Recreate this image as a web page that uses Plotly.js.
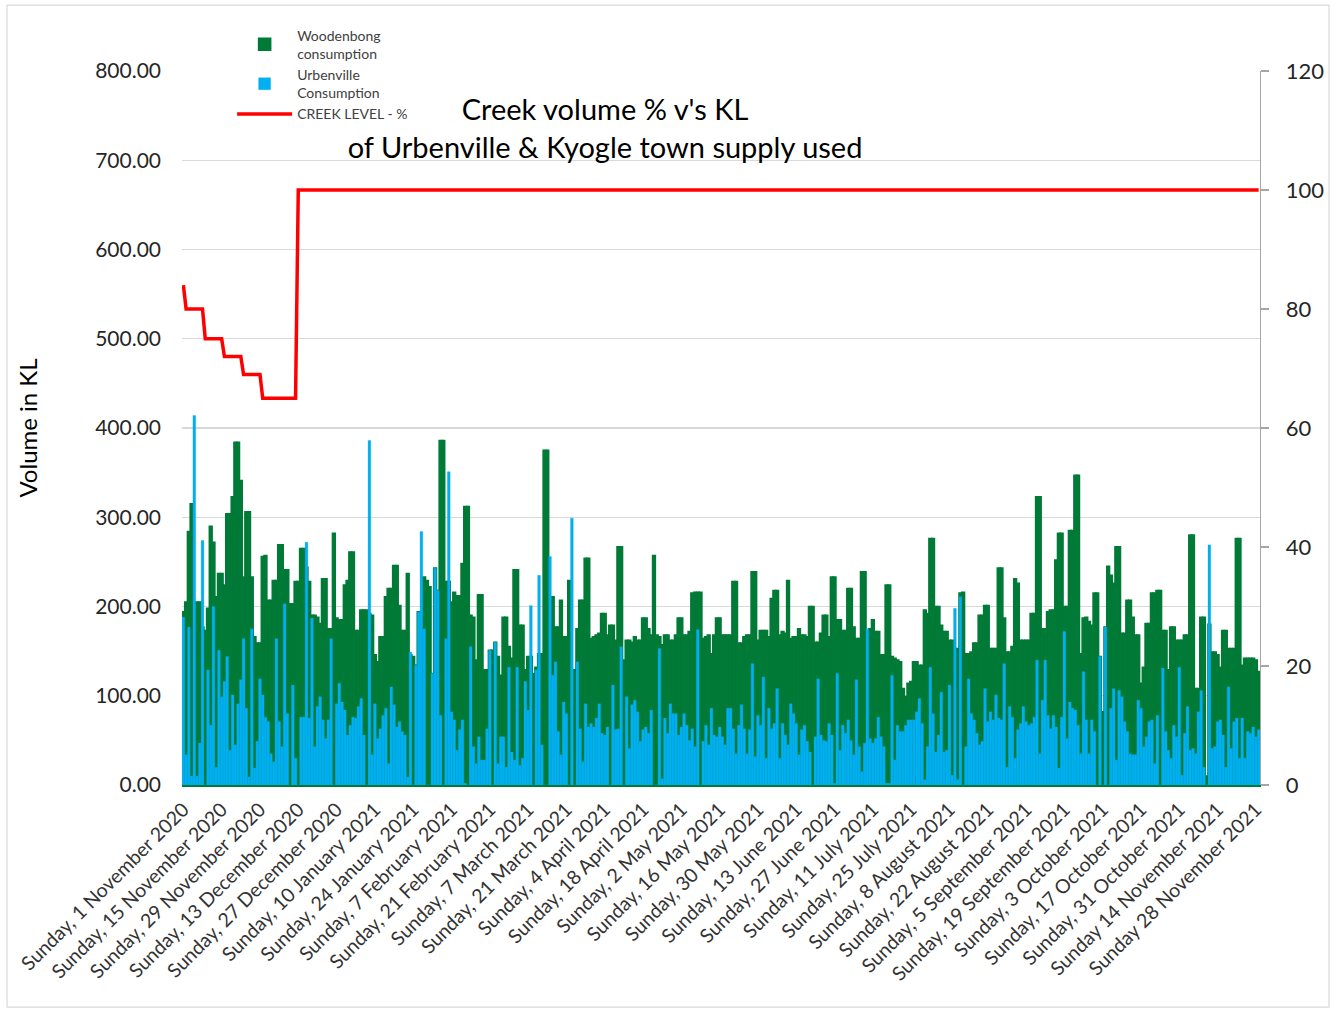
<!DOCTYPE html>
<html>
<head>
<meta charset="utf-8">
<script src="https://cdn.plot.ly/plotly-3.0.1.min.js"></script>
<style>html,body{margin:0;padding:0;background:#fff;}#chart{width:1341px;height:1009px;}</style>
</head>
<body>
<div id="chart"></div>
<script>
// ---- data (daily from Sunday 1 November 2020) ----
var startDate = '2020-11-01';

var woodenbong = [
194,205,284,315,200,205,205,177,173,198,290,272,211,237,237,224,304,304,323,384,
384,341,233,306,306,233,166,159,159,256,257,207,207,229,229,269,269,241,241,203,
203,228,228,265,265,244,228,190,190,188,181,231,231,175,175,282,187,185,185,224,
229,261,261,173,173,196,196,
196,192,190,146,138,166,166,211,220,220,246,246,201,173,173,237,146,144,134,194,
175,233,229,222,125,243,218,386,386,228,228,205,216,212,212,248,312,312,190,188,
140,213,213,129,129,151,151,160,144,123,188,188,155,142,241,241,179,179,129,144,
144,125,132,147,147,375,375,
211,211,177,177,207,166,166,229,129,129,175,207,207,254,254,164,166,168,170,192,
192,168,179,179,162,267,267,140,162,162,160,166,162,162,187,187,175,168,257,168,
166,157,168,168,162,162,168,187,187,168,168,172,215,216,216,216,164,166,168,147,
168,187,187,168,168,168,
168,228,228,159,159,166,168,168,239,239,162,173,173,173,166,209,218,218,168,172,
170,229,164,166,166,175,168,168,166,200,200,160,160,170,190,190,166,233,233,185,
185,173,173,220,220,177,164,164,239,239,164,175,185,172,172,146,146,224,224,144,
142,140,138,108,99,114,
116,138,138,134,134,196,192,276,276,200,200,179,172,172,162,162,153,153,215,216,
147,147,149,159,159,190,190,201,201,153,153,153,243,243,187,149,149,155,231,226,
162,162,162,162,192,192,323,323,175,175,194,196,196,252,282,282,200,200,285,285,
347,347,147,187,188,183,
179,215,215,144,82,177,245,235,226,267,267,170,170,207,207,188,168,168,114,132,
181,181,215,215,218,218,173,173,129,177,177,162,162,162,168,168,280,280,108,108,
188,188,10,180,149,149,146,132,173,173,153,153,153,276,276,134,142,142,142,142,
140,127
];

var urbenville = [
188,34,177,10,414,10,47,274,0,129,67,200,20,151,99,116,144,39,101,45,
91,118,164,86,9,175,19,49,119,101,76,71,35,26,164,71,43,203,80,0,
112,30,0,76,76,272,75,187,43,88,99,73,52,73,164,0,91,114,93,84,
56,67,76,75,88,97,56,
0,386,34,91,52,63,78,86,24,110,90,65,71,60,56,9,149,0,134,194,
284,175,0,0,125,243,218,78,0,164,351,82,73,39,62,73,2,0,155,43,
24,54,28,28,63,151,0,160,24,54,54,20,132,37,28,132,22,30,116,84,
201,0,129,235,45,0,0,
256,123,138,60,34,93,80,0,299,0,138,63,26,91,65,69,65,75,91,58,
56,65,0,112,62,63,155,0,99,41,90,95,82,49,62,65,58,84,0,0,
153,7,75,58,91,80,80,56,65,80,67,50,63,43,174,0,49,67,45,86,
56,54,65,54,45,86,
86,63,35,67,90,63,35,62,136,32,78,67,121,30,86,63,69,108,30,69,
56,45,91,80,69,34,62,67,49,37,0,54,119,56,50,49,69,56,2,125,
39,67,58,73,50,34,118,43,15,47,175,52,47,52,76,54,43,2,2,123,
28,67,60,60,67,73,
73,73,82,97,69,6,43,132,80,37,56,104,37,39,112,11,198,6,211,0,
43,119,80,73,58,45,49,108,71,82,73,101,75,73,136,20,88,76,30,62,
69,88,71,67,69,76,140,35,95,140,78,63,78,65,19,76,172,52,93,86,
84,67,35,127,73,35,
73,60,0,144,0,177,0,86,108,28,106,99,71,60,35,34,34,95,86,43,
54,71,73,24,78,0,131,60,39,30,67,54,132,11,58,88,39,41,35,82,
106,20,0,269,41,43,71,73,56,20,110,41,71,75,30,75,30,60,58,65,
54,62
];

var creekLevel = [
84,80,80,80,80,80,80,80,75,75,75,75,75,75,75,72,72,72,72,72,72,72,
69,69,69,69,69,69,69,65,65,65,65,65,65,65,65,65,65,65,65,65,
100,100,100,100,100,100,100,100,100,100,100,100,100,100,100,100,100,100,100,100,100,100,
100,100,100,100,100,100,100,100,100,100,100,100,100,100,100,100,100,100,100,100,100,100,
100,100,100,100,100,100,100,100,100,100,100,100,100,100,100,100,100,100,100,100,100,100,
100,100,100,100,100,100,100,100,100,100,100,100,100,100,100,100,100,100,100,100,100,100,
100,100,100,100,100,100,100,100,100,100,100,100,100,100,100,100,100,100,100,100,100,100,
100,100,100,100,100,100,100,100,100,100,100,100,100,100,100,100,100,100,100,100,100,100,
100,100,100,100,100,100,100,100,100,100,100,100,100,100,100,100,100,100,100,100,100,100,
100,100,100,100,100,100,100,100,100,100,100,100,100,100,100,100,100,100,100,100,100,100,
100,100,100,100,100,100,100,100,100,100,100,100,100,100,100,100,100,100,100,100,100,100,
100,100,100,100,100,100,100,100,100,100,100,100,100,100,100,100,100,100,100,100,100,100,
100,100,100,100,100,100,100,100,100,100,100,100,100,100,100,100,100,100,100,100,100,100,
100,100,100,100,100,100,100,100,100,100,100,100,100,100,100,100,100,100,100,100,100,100,
100,100,100,100,100,100,100,100,100,100,100,100,100,100,100,100,100,100,100,100,100,100,
100,100,100,100,100,100,100,100,100,100,100,100,100,100,100,100,100,100,100,100,100,100,
100,100,100,100,100,100,100,100,100,100,100,100,100,100,100,100,100,100,100,100,100,100,
100,100,100,100,100,100,100,100,100,100,100,100,100,100,100,100,100,100,100,100,100,100
];

var tickLabels = [
'Sunday, 1 November 2020','Sunday, 15 November 2020','Sunday, 29 November 2020',
'Sunday, 13 December 2020','Sunday, 27 December 2020','Sunday, 10 January 2021',
'Sunday, 24 January 2021','Sunday, 7 February 2021','Sunday, 21 February 2021',
'Sunday, 7 March 2021','Sunday, 21 March 2021','Sunday, 4 April 2021',
'Sunday, 18 April 2021','Sunday, 2 May 2021','Sunday, 16 May 2021',
'Sunday, 30 May 2021','Sunday, 13 June 2021','Sunday, 27 June 2021',
'Sunday, 11 July 2021','Sunday, 25 July 2021','Sunday, 8 August 2021',
'Sunday, 22 August 2021','Sunday, 5 September 2021','Sunday, 19 September 2021',
'Sunday, 3 October 2021','Sunday, 17 October 2021','Sunday, 31 October 2021',
'Sunday 14 November 2021','Sunday 28 November 2021'
];
var tickDates = [
'2020-11-01','2020-11-15','2020-11-29','2020-12-13','2020-12-27','2021-01-10',
'2021-01-24','2021-02-07','2021-02-21','2021-03-07','2021-03-21','2021-04-04',
'2021-04-18','2021-05-02','2021-05-16','2021-05-30','2021-06-13','2021-06-27',
'2021-07-11','2021-07-25','2021-08-08','2021-08-22','2021-09-05','2021-09-19',
'2021-10-03','2021-10-17','2021-10-31','2021-11-14','2021-11-28'
];

// ---- daily category dates ----
var nDays = woodenbong.length;
var dates = [];
var t0 = Date.parse(startDate + 'T00:00:00Z');
for (var i = 0; i < nDays; i++) {
  dates.push(new Date(t0 + i * 86400000).toISOString().slice(0, 10));
}

var FONT = 'Lato, "Open Sans", sans-serif';

var traces = [
  {
    type: 'bar', name: 'Woodenbong<br>consumption', x: dates, y: woodenbong,
    legendgroup: 'a',
    marker: {color: '#007A37', line: {color: '#007A37', width: 1.6}},
    hoverinfo: 'x+y'
  },
  {
    type: 'bar', name: 'Urbenville<br>Consumption', x: dates, y: urbenville,
    legendgroup: 'b',
    marker: {color: '#00B0F0', line: {color: '#00A6E4', width: 0.3}},
    hoverinfo: 'x+y'
  },
  {
    type: 'scatter', mode: 'lines', name: 'CREEK LEVEL - %', x: dates, y: creekLevel,
    legendgroup: 'c',
    yaxis: 'y2', line: {color: '#FF0000', width: 3.5}
  }
];

var layout = {
  width: 1341, height: 1009,
  margin: {l: 182, r: 81, t: 71, b: 224, pad: 0},
  paper_bgcolor: '#ffffff', plot_bgcolor: '#ffffff',
  font: {family: FONT, color: '#262626'},
  barmode: 'overlay', bargap: 0,
  showlegend: true,
  legend: {
    x: 0.0465, y: 1.072, xanchor: 'left', yanchor: 'top',
    bgcolor: 'rgba(0,0,0,0)', font: {size: 14, color: '#404040', family: FONT},
    itemwidth: 55, tracegroupgap: 0, traceorder: 'grouped'
  },
  title: {
    text: "Creek volume % v's KL<br>of Urbenville & Kyogle town supply used",
    font: {size: 29, color: '#000000', family: FONT},
    xref: 'container', x: 0.4512, xanchor: 'center',
    yref: 'container', y: 0.881, yanchor: 'top'
  },
  xaxis: {
    type: 'date',
    range: ['2020-10-31 12:00', '2021-11-29 12:00'],
    tickmode: 'array', tickvals: tickDates, ticktext: tickLabels,
    tickangle: -45, tickfont: {size: 19.5, color: '#333333', family: FONT},
    showgrid: false, zeroline: false,
    showline: true, linecolor: '#007A37', linewidth: 1.5,
    ticks: '', ticklabelstandoff: 4, fixedrange: true
  },
  yaxis: {
    range: [0, 800], tickmode: 'array',
    tickvals: [0, 100, 200, 300, 400, 500, 600, 700, 800],
    tickformat: '.2f',
    tickfont: {size: 21, color: '#262626', family: FONT},
    showgrid: true, gridcolor: '#D9D9D9', gridwidth: 1.3,
    zeroline: false, showline: false, ticks: '',
    ticklabelstandoff: 20,
    title: {text: 'Volume in KL', font: {size: 24, color: '#000000', family: FONT}, standoff: 50}
  },
  yaxis2: {
    overlaying: 'y', side: 'right', range: [0, 120],
    tickmode: 'array', tickvals: [0, 20, 40, 60, 80, 100, 120],
    tickfont: {size: 22, color: '#262626', family: FONT},
    showgrid: false, zeroline: false,
    showline: true, linecolor: '#A6A6A6', linewidth: 1.3,
    ticks: 'outside', ticklen: 8, tickcolor: '#A6A6A6', tickwidth: 1.3,
    ticklabelstandoff: 12
  },
  shapes: [{
    type: 'rect', xref: 'paper', yref: 'paper',
    x0: -0.1623, x1: 1.064, y0: -0.311, y1: 1.0924,
    line: {color: '#D9D9D9', width: 1.2}, fillcolor: 'rgba(0,0,0,0)', layer: 'below'
  }]
};

Plotly.newPlot('chart', traces, layout, {displayModeBar: false, staticPlot: true});
</script>
</body>
</html>
